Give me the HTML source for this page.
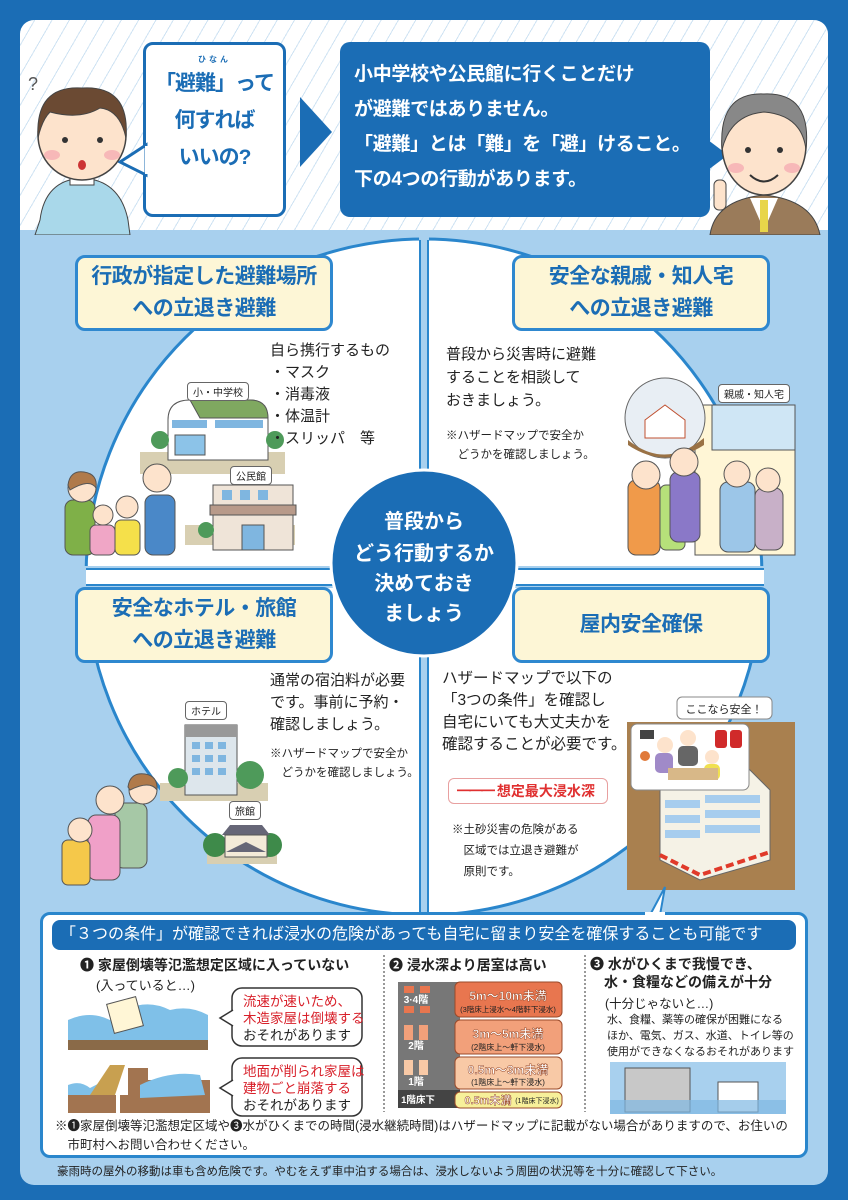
<!DOCTYPE html>
<html><head><meta charset="utf-8"><style>
*{margin:0;padding:0;box-sizing:border-box}
body{width:848px;height:1200px;background:#1b6db5;position:relative;overflow:hidden;font-family:"Liberation Sans","Noto Sans CJK JP",sans-serif;color:#222}
.a{position:absolute}
.lbl{position:absolute;background:#fdf6d6;border:3px solid #2f88cf;border-radius:10px;color:#1b6db5;font-weight:bold;font-size:21px;line-height:32px;text-align:center;display:flex;align-items:center;justify-content:center;letter-spacing:-0.5px}
.t{position:absolute;font-size:15px;line-height:23px;color:#222}
.s{position:absolute;font-size:11.5px;line-height:19px;color:#222}
.tag{position:absolute;background:#fff;border:1px solid #666;border-radius:4px;font-size:10px;padding:1px 5px;color:#222}
</style></head><body>
<div class="a" style="left:20px;top:20px;width:808px;height:215px;border-radius:14px 14px 0 0;background:repeating-linear-gradient(-60deg,#fff 0 14px,#cfe3f3 14px 15px)"></div>
<div class="a" style="left:20px;top:230px;width:808px;height:955px;background:#a8d0ee;border-radius:0 0 14px 14px"></div>

<div class="a" style="left:143px;top:42px;width:143px;height:175px;background:#fff;border:3px solid #1b6db5;border-radius:10px"></div>
<svg class="a" style="left:118px;top:140px" width="30" height="40"><polygon points="28,5 2,22 28,35" fill="#fff" stroke="#1b6db5" stroke-width="3"/><rect x="27" y="6" width="4" height="28" fill="#fff"/></svg>
<div class="a" style="left:143px;top:55px;width:143px;text-align:center;color:#1b6db5;font-weight:bold;font-size:21px;line-height:37px;letter-spacing:-1px;white-space:nowrap"><div style="font-size:8px;line-height:10px;letter-spacing:3px">ひなん</div>「避難」って<br>何すれば<br>いいの?</div>
<svg class="a" style="left:300px;top:97px" width="32" height="70"><polygon points="0,0 32,35 0,70" fill="#1b6db5"/></svg>
<div class="a" style="left:340px;top:42px;width:370px;height:175px;background:#1b6db5;border-radius:10px;color:#fff;font-weight:bold;font-size:19px;line-height:35px;padding:15px 0 0 14px;white-space:nowrap;letter-spacing:-0.3px">小中学校や公民館に行くことだけ<br>が避難ではありません。<br>「避難」とは「難」を「避」けること。<br>下の4つの行動があります。</div>
<svg class="a" style="left:708px;top:140px" width="22" height="30"><polygon points="0,0 20,15 0,30" fill="#1b6db5"/></svg>

<svg class="a" style="left:20px;top:60px" width="125" height="175">
<path d="M20 160 Q25 120 62 118 Q100 120 108 160 L110 175 L15 175Z" fill="#a9d8ea" stroke="#444"/>
<rect x="50" y="105" width="24" height="20" fill="#fff" stroke="#444"/>
<ellipse cx="62" cy="75" rx="44" ry="45" fill="#fde3cc" stroke="#444" stroke-width="1.5"/>
<path d="M18 78 Q15 25 62 28 Q110 25 106 78 Q100 50 80 48 Q60 60 30 52 Q22 60 18 78Z" fill="#6b4a33" stroke="#444"/>
<circle cx="45" cy="80" r="3" fill="#333"/><circle cx="80" cy="80" r="3" fill="#333"/>
<ellipse cx="62" cy="105" rx="4" ry="5" fill="#c33"/>
<ellipse cx="32" cy="95" rx="8" ry="5" fill="#f7b8b8"/><ellipse cx="92" cy="95" rx="8" ry="5" fill="#f7b8b8"/>
<text x="8" y="30" font-size="18" fill="#555">?</text>
</svg>
<svg class="a" style="left:700px;top:70px" width="128" height="165">
<path d="M10 165 Q15 130 64 125 Q113 130 120 165Z" fill="#9a7b5a" stroke="#444"/>
<path d="M50 128 L64 160 L78 128Z" fill="#fff"/><rect x="60" y="130" width="8" height="32" fill="#e8d54a"/>
<ellipse cx="64" cy="75" rx="42" ry="50" fill="#fde3cc" stroke="#444" stroke-width="1.5"/>
<path d="M22 80 Q18 22 64 24 Q112 22 106 80 Q102 45 64 42 Q30 45 22 80Z" fill="#888" stroke="#444"/>
<circle cx="48" cy="80" r="3" fill="#333"/><circle cx="80" cy="80" r="3" fill="#333"/>
<path d="M50 105 Q64 118 78 105" fill="none" stroke="#333" stroke-width="2"/>
<ellipse cx="36" cy="98" rx="8" ry="5" fill="#f7b8b8"/><ellipse cx="92" cy="98" rx="8" ry="5" fill="#f7b8b8"/>
<rect x="14" y="110" width="12" height="30" rx="5" fill="#fde3cc" stroke="#444"/>
</svg>

<svg class="a" style="left:0;top:0" width="848" height="1200">
<circle cx="424" cy="577" r="338" fill="#fff" stroke="#2a86cc" stroke-width="3"/>
<rect x="419" y="235" width="10" height="680" fill="#a8d0ee"/>
<line x1="420" y1="240" x2="420" y2="912" stroke="#2a86cc" stroke-width="2"/>
<line x1="428" y1="240" x2="428" y2="912" stroke="#2a86cc" stroke-width="2"/>
<rect x="80" y="566" width="690" height="22" fill="#a8d0ee"/>
<rect x="86" y="570" width="678" height="14" fill="#fff"/>
<line x1="86" y1="569" x2="764" y2="569" stroke="#2a86cc" stroke-width="2"/>
<line x1="86" y1="585" x2="764" y2="585" stroke="#2a86cc" stroke-width="2"/>
<circle cx="424" cy="563" r="93" fill="#1b6db5" stroke="#fff" stroke-width="3"/>
<text x="424" y="528" fill="#fff" font-size="20" font-weight="bold" text-anchor="middle">普段から</text>
<text x="424" y="560" fill="#fff" font-size="20" font-weight="bold" text-anchor="middle">どう行動するか</text>
<text x="424" y="590" fill="#fff" font-size="20" font-weight="bold" text-anchor="middle">決めておき</text>
<text x="424" y="620" fill="#fff" font-size="20" font-weight="bold" text-anchor="middle">ましょう</text>

<rect x="140" y="452" width="145" height="22" fill="#d8cfb2"/>
<path d="M168 460 L168 420 Q168 400 190 400 L250 400 Q268 400 268 420 L268 460Z" fill="#fff" stroke="#555"/>
<path d="M190 400 L250 400 Q268 400 268 418 L200 418Z" fill="#7fa860" stroke="#555"/>
<rect x="172" y="420" width="35" height="8" fill="#7fb6e0"/><rect x="215" y="420" width="48" height="8" fill="#7fb6e0"/>
<rect x="175" y="435" width="30" height="20" fill="#8cc3e8" stroke="#555"/>
<circle cx="160" cy="440" r="9" fill="#4e9a5a"/><circle cx="275" cy="440" r="9" fill="#4e9a5a"/>
<rect x="185" y="525" width="110" height="20" fill="#d8cfb2"/>
<rect x="213" y="485" width="80" height="65" fill="#efe4d8" stroke="#555"/>
<rect x="210" y="505" width="86" height="10" fill="#b89a8a" stroke="#555"/>
<rect x="222" y="490" width="10" height="10" fill="#7fb6e0"/><rect x="240" y="490" width="10" height="10" fill="#7fb6e0"/><rect x="258" y="490" width="10" height="10" fill="#7fb6e0"/>
<rect x="242" y="525" width="22" height="25" fill="#7fb6e0" stroke="#555"/>
<circle cx="206" cy="530" r="8" fill="#4e9a5a"/>
<g stroke="#555" stroke-width="1">
<rect x="65" y="500" width="30" height="55" rx="8" fill="#7fb048"/><circle cx="82" cy="488" r="14" fill="#fde3cc"/><path d="M68 485 Q70 470 84 472 Q98 474 96 488 Q90 478 70 490Z" fill="#b07a4a"/>
<rect x="145" y="495" width="30" height="60" rx="8" fill="#4a88c8"/><circle cx="157" cy="478" r="14" fill="#fde3cc"/>
<rect x="90" y="525" width="25" height="30" rx="6" fill="#f0a6c6"/><circle cx="103" cy="515" r="10" fill="#fde3cc"/>
<rect x="115" y="520" width="25" height="35" rx="6" fill="#f5e04a"/><circle cx="127" cy="507" r="11" fill="#fde3cc"/>
</g>
<rect x="695" y="405" width="100" height="150" fill="#fff6d6" stroke="#555"/>
<rect x="712" y="405" width="83" height="45" fill="#cfe6f5" stroke="#555"/>
<circle cx="665" cy="418" r="40" fill="#e8eef4" stroke="#666"/>
<path d="M645 420 L665 405 L685 420 L685 438 L645 438Z" fill="#fff" stroke="#c05030"/>
<path d="M628 440 Q665 470 704 438 L704 445 Q665 470 628 445Z" fill="#9a7245"/>
<g stroke="#555" stroke-width="1">
<rect x="628" y="480" width="32" height="75" rx="8" fill="#f09a4a"/><circle cx="646" cy="475" r="14" fill="#fde3cc"/>
<rect x="660" y="485" width="25" height="65" rx="6" fill="#b6e07a"/>
<rect x="670" y="472" width="30" height="70" rx="8" fill="#8a78c8"/><circle cx="684" cy="462" r="14" fill="#fde3cc"/>
<rect x="720" y="482" width="35" height="70" rx="8" fill="#9cc6e8"/><circle cx="737" cy="474" r="13" fill="#fde3cc"/>
<rect x="755" y="488" width="28" height="62" rx="8" fill="#c8b0c8"/><circle cx="768" cy="480" r="12" fill="#fde3cc"/>
</g>
<rect x="160" y="783" width="108" height="18" fill="#d8cfb2"/>
<rect x="185" y="725" width="52" height="70" fill="#dde6ec" stroke="#555"/><rect x="185" y="725" width="52" height="12" fill="#999"/>
<g fill="#7fb6e0"><rect x="192" y="742" width="8" height="7"/><rect x="205" y="742" width="8" height="7"/><rect x="218" y="742" width="8" height="7"/><rect x="192" y="755" width="8" height="7"/><rect x="205" y="755" width="8" height="7"/><rect x="218" y="755" width="8" height="7"/><rect x="192" y="768" width="8" height="7"/><rect x="205" y="768" width="8" height="7"/><rect x="218" y="768" width="8" height="7"/></g>
<circle cx="250" cy="775" r="14" fill="#4e9a5a"/><circle cx="178" cy="778" r="10" fill="#4e9a5a"/>
<rect x="207" y="848" width="70" height="16" fill="#d8cfb2"/>
<circle cx="215" cy="845" r="12" fill="#3e8a4a"/><circle cx="270" cy="845" r="12" fill="#3e8a4a"/>
<path d="M222 835 L230 825 L262 825 L270 835Z" fill="#667" />
<rect x="225" y="835" width="42" height="22" fill="#f3ead8" stroke="#555"/>
<path d="M226 852 L246 842 L266 852Z" fill="#667"/>
<g stroke="#555" stroke-width="1">
<rect x="115" y="803" width="32" height="65" rx="8" fill="#a6c8a6"/><circle cx="143" cy="790" r="14" fill="#fde3cc"/><path d="M128 787 Q130 772 145 774 Q158 776 157 790 Q150 780 130 790Z" fill="#b07a4a"/>
<rect x="88" y="815" width="32" height="65" rx="8" fill="#f0a0c8"/><circle cx="110" cy="800" r="14" fill="#fde3cc"/>
<rect x="62" y="840" width="28" height="45" rx="6" fill="#f5c84a"/><circle cx="80" cy="830" r="12" fill="#fde3cc"/>
</g>
<rect x="627" y="722" width="168" height="168" fill="#a9804f"/>
<path d="M660 790 L740 760 L770 790 L770 860 L700 880 L660 860Z" fill="#f5f2e6" stroke="#666"/>
<g fill="#a6cdee"><rect x="665" y="800" width="35" height="8"/><rect x="665" y="815" width="35" height="8"/><rect x="665" y="830" width="35" height="8"/><rect x="705" y="795" width="55" height="8"/><rect x="705" y="810" width="55" height="8"/><rect x="705" y="825" width="55" height="8"/></g>
<path d="M660 855 L700 875 L770 852" fill="none" stroke="#e03a2a" stroke-width="4" stroke-dasharray="8 4"/>
<rect x="631" y="724" width="118" height="66" rx="6" fill="#fff" stroke="#888"/>
<rect x="677" y="697" width="95" height="22" rx="5" fill="#fff" stroke="#888"/>
<text x="724" y="713" font-size="11" text-anchor="middle" fill="#222">ここなら安全！</text>
<rect x="640" y="730" width="14" height="9" fill="#444"/><circle cx="645" cy="756" r="5" fill="#e07a3a"/>
<rect x="715" y="730" width="12" height="18" rx="3" fill="#d02a2a"/><rect x="730" y="730" width="12" height="18" rx="3" fill="#d02a2a"/>
<circle cx="665" cy="745" r="8" fill="#fde3cc"/><rect x="655" y="753" width="18" height="20" rx="5" fill="#a08ac8"/>
<circle cx="688" cy="738" r="8" fill="#fde3cc"/><rect x="678" y="746" width="20" height="20" rx="5" fill="#666"/>
<circle cx="712" cy="757" r="7" fill="#fde3cc"/><rect x="704" y="764" width="16" height="16" rx="5" fill="#f0e050"/>
<rect x="668" y="768" width="50" height="12" fill="#d8b888"/>
</svg>

<div class="lbl" style="left:75px;top:255px;width:258px;height:76px">行政が指定した避難場所<br>への立退き避難</div>
<div class="lbl" style="left:512px;top:255px;width:258px;height:76px">安全な親戚・知人宅<br>への立退き避難</div>
<div class="lbl" style="left:75px;top:587px;width:258px;height:76px">安全なホテル・旅館<br>への立退き避難</div>
<div class="lbl" style="left:512px;top:587px;width:258px;height:76px">屋内安全確保</div>

<div class="tag" style="left:187px;top:382px">小・中学校</div>
<div class="tag" style="left:230px;top:466px">公民館</div>
<div class="tag" style="left:718px;top:384px">親戚・知人宅</div>
<div class="tag" style="left:185px;top:701px">ホテル</div>
<div class="tag" style="left:229px;top:801px">旅館</div>

<div class="t" style="left:270px;top:340px;line-height:22px">自ら携行するもの<br>・マスク<br>・消毒液<br>・体温計<br>・スリッパ　等</div>
<div class="t" style="left:446px;top:343px">普段から災害時に避難<br>することを相談して<br>おきましょう。</div>
<div class="s" style="left:446px;top:427px">※ハザードマップで安全か<br>　どうかを確認しましょう。</div>
<div class="t" style="left:270px;top:670px;line-height:22px">通常の宿泊料が必要<br>です。事前に予約・<br>確認しましょう。</div>
<div class="s" style="left:270px;top:745px">※ハザードマップで安全か<br>　どうかを確認しましょう。</div>
<div class="t" style="left:442px;top:668px;line-height:22px;font-size:15.5px">ハザードマップで以下の<br>「3つの条件」を確認し<br>自宅にいても大丈夫かを<br>確認することが必要です。</div>
<div class="a" style="left:448px;top:778px;width:160px;height:26px;border:1px solid #e8a0a0;border-radius:6px;color:#e03030;font-weight:bold;font-size:14px;line-height:24px;padding-left:8px"><span style="letter-spacing:-2px">━━━</span> 想定最大浸水深</div>
<div class="s" style="left:452px;top:820px;line-height:21px">※土砂災害の危険がある<br>　区域では立退き避難が<br>　原則です。</div>

<svg class="a" style="left:645px;top:885px" width="30" height="32"><polygon points="15,30 20,2 5,30" fill="#fff" stroke="#2a86cc" stroke-width="2"/></svg>
<div class="a" style="left:40px;top:912px;width:768px;height:246px;background:#fff;border:3px solid #2a86cc;border-radius:10px"></div>
<div class="a" style="left:645px;top:912px;width:20px;height:4px;background:#fff"></div>
<div class="a" style="left:52px;top:920px;width:744px;height:30px;background:#1b6db5;border-radius:8px;color:#fff;font-size:16px;line-height:30px;padding-left:8px;white-space:nowrap;overflow:hidden">「３つの条件」が確認できれば浸水の危険があっても自宅に留まり安全を確保することも可能です</div>

<div class="a" style="left:80px;top:955px;font-size:14px;font-weight:bold;white-space:nowrap">❶ 家屋倒壊等氾濫想定区域に入っていない</div>
<div class="a" style="left:96px;top:975px;font-size:13px">(入っていると…)</div>
<div class="a" style="left:389px;top:955px;font-size:14px;font-weight:bold">❷ 浸水深より居室は高い</div>
<div class="a" style="left:590px;top:955px;font-size:14px;font-weight:bold;line-height:18px">❸ 水がひくまで我慢でき、<br>　水・食糧などの備えが十分</div>
<div class="a" style="left:605px;top:993px;font-size:12.5px">(十分じゃないと…)</div>
<div class="a" style="left:607px;top:1012px;font-size:11px;line-height:16px">水、食糧、薬等の確保が困難になる<br>ほか、電気、ガス、水道、トイレ等の<br>使用ができなくなるおそれがあります</div>
<svg class="a" style="left:0;top:0" width="848" height="1200">
<line x1="384" y1="955" x2="384" y2="1112" stroke="#333" stroke-dasharray="2 2"/>
<line x1="585" y1="955" x2="585" y2="1112" stroke="#333" stroke-dasharray="2 2"/>
<rect x="68" y="1040" width="140" height="10" fill="#8a6a48"/>
<path d="M68 1020 Q90 1010 110 1020 Q140 995 170 1010 Q190 1005 208 1015 L208 1040 L68 1040Z" fill="#7fc0e8"/>
<rect x="110" y="1000" width="30" height="30" fill="#fff6d6" stroke="#555" transform="rotate(-15 125 1015)"/>
<rect x="68" y="1095" width="48" height="18" fill="#a27450"/><path d="M68 1085 Q80 1080 90 1088 L115 1075 L115 1095 L68 1095Z" fill="#7fc0e8"/><path d="M90 1095 L110 1065 L125 1065 L115 1095Z" fill="#c8a050"/>
<rect x="120" y="1095" width="30" height="18" fill="#a27450"/>
<rect x="128" y="1068" width="20" height="27" fill="#a27450"/>
<rect x="140" y="1080" width="70" height="33" fill="#a27450"/><path d="M140 1085 Q170 1070 200 1075 L205 1095 L140 1098Z" fill="#7fc0e8"/>
<rect x="232" y="988" width="130" height="58" rx="10" fill="#fff" stroke="#333" stroke-width="1.5"/>
<rect x="232" y="1058" width="130" height="58" rx="10" fill="#fff" stroke="#333" stroke-width="1.5"/>
<polyline points="233,1010 220,1018 233,1026" fill="#fff" stroke="#333" stroke-width="1.5"/>
<polyline points="233,1080 220,1088 233,1096" fill="#fff" stroke="#333" stroke-width="1.5"/>
<rect x="398" y="982" width="62" height="126" fill="#777"/>
<rect x="398" y="1090" width="62" height="18" fill="#444"/>
<rect x="455" y="982" width="107" height="35" rx="5" fill="#e8764f" stroke="#9a4a2a"/>
<rect x="455" y="1020" width="107" height="34" rx="5" fill="#f2a07a" stroke="#9a4a2a"/>
<rect x="455" y="1057" width="107" height="32" rx="5" fill="#f8c9a6" stroke="#9a4a2a"/>
<rect x="455" y="1092" width="107" height="16" rx="5" fill="#f7f09a" stroke="#9a4a2a"/>
<g fill="#e8764f"><rect x="404" y="986" width="10" height="7"/><rect x="420" y="986" width="10" height="7"/><rect x="404" y="1006" width="10" height="7"/><rect x="420" y="1006" width="10" height="7"/></g>
<g fill="#f2a07a"><rect x="404" y="1025" width="9" height="15"/><rect x="419" y="1025" width="9" height="15"/></g>
<g fill="#f8c9a6"><rect x="404" y="1060" width="9" height="15"/><rect x="419" y="1060" width="9" height="15"/></g>
<text x="416" y="1003" font-size="10" fill="#fff" text-anchor="middle" font-weight="bold">3·4階</text>
<text x="416" y="1049" font-size="10" fill="#fff" text-anchor="middle" font-weight="bold">2階</text>
<text x="416" y="1085" font-size="10" fill="#fff" text-anchor="middle" font-weight="bold">1階</text>
<text x="418" y="1103" font-size="9.5" fill="#fff" text-anchor="middle" font-weight="bold">1階床下</text>
<text x="508" y="1000" font-size="12" fill="#fff" text-anchor="middle" font-weight="bold" stroke="#9a4a2a" stroke-width="0.5">5m～10m未満</text>
<text x="508" y="1012" font-size="7.5" fill="#222" text-anchor="middle">(3階床上浸水～4階軒下浸水)</text>
<text x="508" y="1038" font-size="12" fill="#fff" text-anchor="middle" font-weight="bold" stroke="#9a4a2a" stroke-width="0.5">3m～5m未満</text>
<text x="508" y="1050" font-size="8" fill="#222" text-anchor="middle">(2階床上～軒下浸水)</text>
<text x="508" y="1074" font-size="12" fill="#fff" text-anchor="middle" font-weight="bold" stroke="#9a4a2a" stroke-width="0.5">0.5m～3m未満</text>
<text x="508" y="1085" font-size="8" fill="#222" text-anchor="middle">(1階床上～軒下浸水)</text>
<text x="488" y="1104" font-size="11" fill="#fff" text-anchor="middle" font-weight="bold" stroke="#9a4a2a" stroke-width="0.5">0.5m未満</text>
<text x="537" y="1103" font-size="7" fill="#222" text-anchor="middle">(1階床下浸水)</text>
<rect x="610" y="1062" width="176" height="52" fill="#a8d0ee"/>
<rect x="625" y="1068" width="65" height="44" fill="#c8c8c8" stroke="#555"/>
<rect x="718" y="1082" width="40" height="30" fill="#fff" stroke="#555"/>
<rect x="610" y="1100" width="176" height="14" fill="#7fb8e2" opacity="0.7"/>
</svg>
<div class="a" style="left:243px;top:993px;font-size:13.5px;line-height:17px"><span style="color:#d8202a">流速が速いため、<br>木造家屋は倒壊する</span><br>おそれがあります</div>
<div class="a" style="left:243px;top:1063px;font-size:13.5px;line-height:17px"><span style="color:#d8202a">地面が削られ家屋は<br>建物ごと崩落する</span><br>おそれがあります</div>
<div class="a" style="left:55px;top:1117px;font-size:12.5px;line-height:19px;white-space:nowrap">※❶家屋倒壊等氾濫想定区域や❸水がひくまでの時間(浸水継続時間)はハザードマップに記載がない場合がありますので、お住いの<br>　市町村へお問い合わせください。</div>
<div class="a" style="left:57px;top:1163px;font-size:11.5px;white-space:nowrap">豪雨時の屋外の移動は車も含め危険です。やむをえず車中泊する場合は、浸水しないよう周囲の状況等を十分に確認して下さい。</div>
</body></html>
